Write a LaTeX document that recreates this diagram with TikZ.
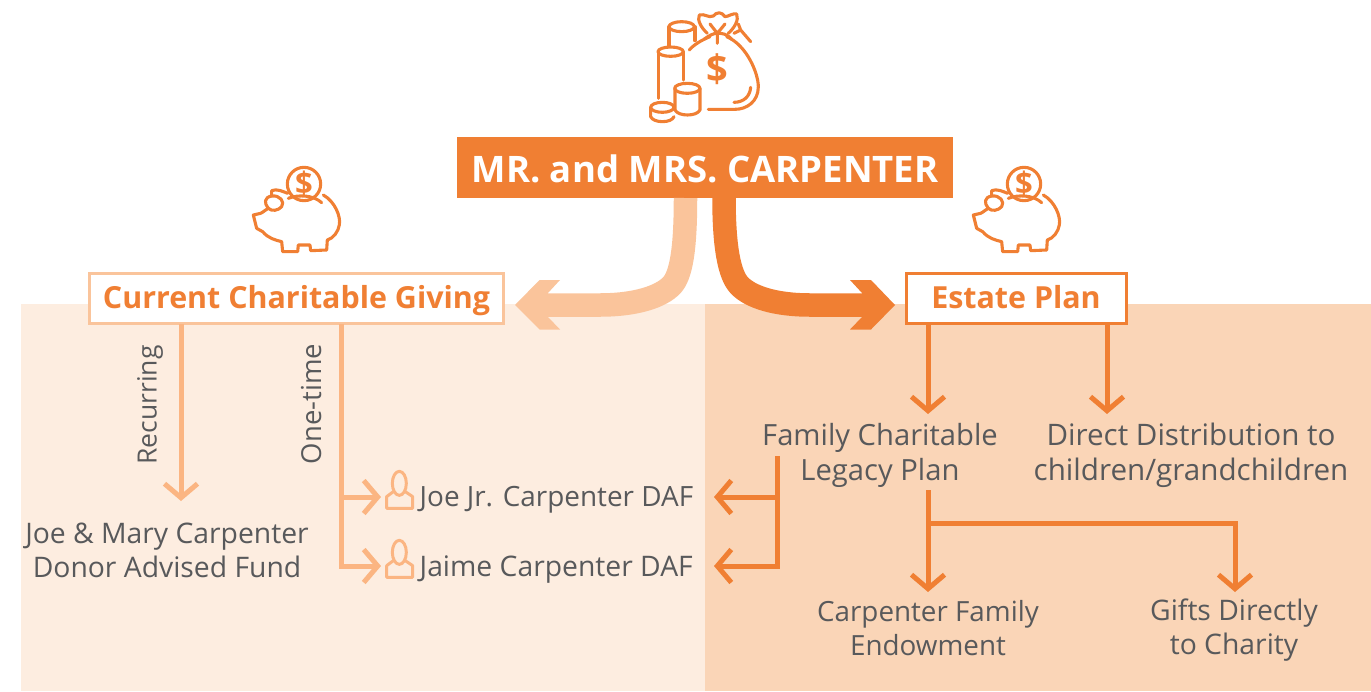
\documentclass[tikz,border=0pt]{standalone}
\usepackage{fontspec}
\setmainfont{Open Sans}
\usetikzlibrary{arrows.meta}
\definecolor{org}{HTML}{F07F33}
\definecolor{lorg}{HTML}{FAC49B}
\definecolor{mline}{HTML}{FBB582}
\definecolor{bgl}{HTML}{FDEDE0}
\definecolor{bgr}{HTML}{FAD5B7}
\definecolor{txt}{HTML}{58595B}
\tikzset{
  pic1/.style={line width=3.1pt,line join=round,line cap=round,draw=org},
  lbl/.style={text=txt,font=\fontsize{28.3}{34}\selectfont,align=center,inner sep=0pt,anchor=center},
  boxl/.style={draw=#1,line width=3pt,fill=white,text=org,font=\fontsize{30.4}{34}\selectfont\bfseries,inner sep=0pt,minimum height=50pt,text height=21.5pt,text depth=0pt},
  conn/.style={draw=#1,line width=5pt,-{Straight Barb[length=14pt,width=33pt,line width=5pt]}},
  plain/.style={draw=#1,line width=5pt},
  person/.style={line width=3pt,draw=mline,line join=round},
}
\newcommand{\pigicon}[2]{%
 \begin{scope}[shift={(#1,#2)},x=0.3333pt,y=-0.3333pt,pic1]
  \draw (192,72) circle (50);
  \node[text=org,font=\fontsize{31}{31}\selectfont\bfseries,inner sep=0pt] at (192,72) {\$};
  \draw (145,115) .. controls (175,103) and (220,105) .. (245,128);
  \draw (250,105) .. controls (285,125) and (303,170) .. (298,195) .. controls (295,215) and (280,235) .. (262,240)
    -- (260,270) -- (212,272) -- (210,255) -- (175,255) -- (173,275) -- (128,275) -- (125,245)
    .. controls (105,240) and (85,235) .. (68,215) -- (50,205) -- (40,165) -- (62,160) .. controls (72,155) and (78,148) .. (85,145);
  \draw (85,145) .. controls (72,130) and (72,112) .. (95,108) .. controls (120,105) and (135,125) .. (125,140) .. controls (115,152) and (95,155) .. (85,145);
  \draw (95,108) -- (95,92) .. controls (110,85) and (130,95) .. (143,100);
 \end{scope}}
\newcommand{\personicon}[2]{%
 \begin{scope}[shift={(#1,#2)},x=0.3333pt,y=-0.3333pt,person]
  \draw (208,100) ellipse (21 and 36);
  \draw (190,125) -- (170,140) -- (170,175) -- (248,175) -- (248,140) -- (226,125);
 \end{scope}}
\begin{document}
\begin{tikzpicture}[x=1pt,y=-1pt]
\useasboundingbox (0,0) rectangle (1371,691);
\fill[bgl] (21,304) rectangle (705,691);
\fill[bgr] (705,304) rectangle (1371,691);
% bag icon
\begin{scope}[shift={(630,0)},x=0.3333pt,y=-0.3333pt,pic1]
 \draw (117,140) -- (117,80) (195,80) -- (195,122);
 \draw (155,80) ellipse (38 and 15);
 \draw (85,295) -- (85,155) (160,155) -- (160,240);
 \draw (122,155) ellipse (38 and 14);
 \draw (135,265) -- (135,330) .. controls (145,350) and (200,350) .. (210,330) -- (210,265);
 \draw (172,265) ellipse (38 and 15);
 \draw (97,322) ellipse (35 and 15);
 \draw (62,322) -- (62,350) .. controls (70,370) and (125,370) .. (132,350);
 \draw (178,150) .. controls (190,135) and (215,120) .. (240,110);
 \draw (290,110) .. controls (350,135) and (385,220) .. (385,260) .. controls (385,305) and (350,328) .. (315,328) -- (235,328);
 \draw (362,262) .. controls (360,290) and (340,307) .. (312,307);
 \draw (232,100) .. controls (215,85) and (200,60) .. (208,45) .. controls (225,40) and (235,55) .. (250,48) .. controls (260,35) and (275,35) .. (285,50) .. controls (295,50) and (310,38) .. (320,42) .. controls (328,60) and (312,85) .. (295,100);
 \draw (222,118) .. controls (240,105) and (250,100) .. (262,100) .. controls (275,100) and (290,100) .. (305,118);
 \draw (262,100) -- (262,130) (240,72) -- (262,100) -- (285,72);
 \draw (325,72) -- (332,90) -- (312,100) (332,90) -- (362,125);
 \node[text=org,font=\fontsize{38}{38}\selectfont\bfseries,inner sep=0pt] at (262,208) {\$};
\end{scope}
\pigicon{240}{160}
\pigicon{960}{160}
% boxes
\node[fill=org,text=white,font=\fontsize{36.5}{40}\selectfont\bfseries,minimum width=496pt,minimum height=61pt,inner sep=0pt,text height=30pt,text depth=0pt] (top) at (705,167.5) {MR. and MRS. CARPENTER};
\node[boxl=lorg,minimum width=414pt] (cur) at (296.5,298) {Current Charitable Giving};
\node[boxl=org,minimum width=220pt] (est) at (1016,298) {Estate Plan};
% big arrows
\coordinate (la) at (685.5,198);
\coordinate (ra) at (724,198);
\coordinate (ltip) at (548,305);
\coordinate (rtip) at (862,305);
\draw[lorg,line width=23.5pt] (la) .. controls (685.5,250) and (681,275) .. (672,285) .. controls (661,297) and (635,305) .. (600,305) -- (ltip);
\fill[lorg] (515,305) -- (539.5,280) -- (560,280) -- (548,293) -- (548,317) -- (560,329.5) -- (539.5,329.5) -- cycle;
\draw[org,line width=23.5pt] (ra) .. controls (724,250) and (730,275) .. (739,285) .. controls (750,297) and (775,305) .. (810,305) -- (rtip);
\fill[org] (895,305) -- (871,280) -- (850,280) -- (862,293) -- (862,317) -- (850,329.5) -- (871,329.5) -- cycle;
% labels
\node[lbl] (fund) at (167,550) {Joe \& Mary Carpenter\\Donor Advised Fund};
\node[lbl,anchor=west,font=\fontsize{27.9}{34}\selectfont] (joe) at (419.5,500) {Joe Jr. Carpenter DAF};
\node[lbl,anchor=west] (jaime) at (419.5,570) {Jaime Carpenter DAF};
\node[lbl,font=\fontsize{29.2}{35}\selectfont] (fam) at (880,455.5) {Family Charitable\\Legacy Plan};
\node[lbl,font=\fontsize{29.6}{35}\selectfont] (dir) at (1191,455.5) {Direct Distribution to\\children/grandchildren};
\node[lbl,font=\fontsize{27.8}{34}\selectfont] (end) at (928,628) {Carpenter Family\\Endowment};
\node[lbl] (gift) at (1234,630) {Gifts Directly\\to Charity};
\node[lbl,rotate=90,font=\fontsize{26.5}{30}\selectfont] (rec) at (150,405) {Recurring};
\node[lbl,rotate=90,font=\fontsize{27.5}{30}\selectfont] (one) at (312,404) {One-time};
\personicon{330}{450}
\personicon{330}{519}
% left connectors
\coordinate (a1) at (181,324); \coordinate (a2) at (181,501);
\draw[conn=mline] (a1) -- (a2);
\coordinate (b1) at (341,324); \coordinate (b2) at (341,497); \coordinate (b3) at (341,566);
\coordinate (b4) at (381,497); \coordinate (b5) at (381,566);
\draw[plain=mline] (b1) -- (b3);
\draw[conn=mline] (b2) -- (b4);
\draw[conn=mline] (341,563.5) -- (341,566) -- (b5);
% right connectors
\draw[conn=org] (928,324) -- (928,414);
\draw[conn=org] (1107,324) -- (1107,414);
\draw[plain=org] (777,456) -- (777,568.5);
\draw[conn=org] (777,497) -- (714,497);
\draw[conn=org] (777,566) -- (714,566);
\draw[conn=org] (928,490) -- (928,592);
\draw[conn=org] (928,523) -- (1235,523) -- (1235,592);
\end{tikzpicture}
\end{document}
